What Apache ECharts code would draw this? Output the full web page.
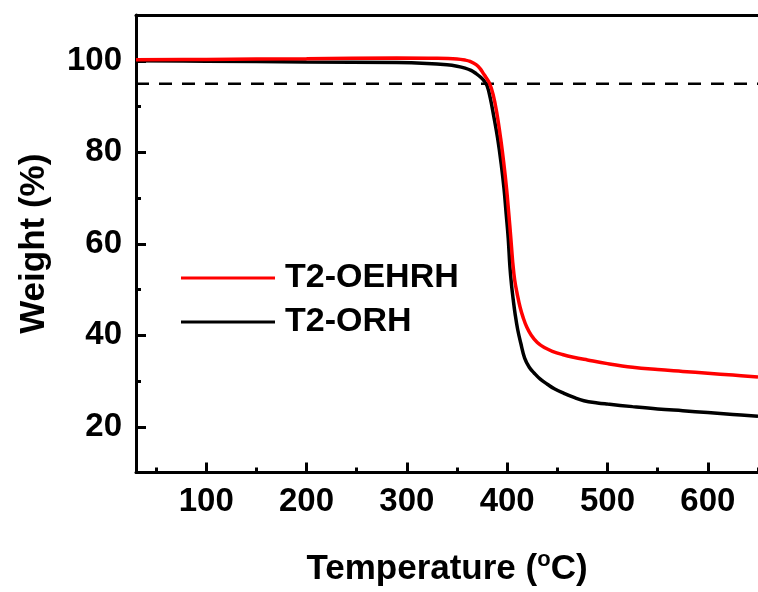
<!DOCTYPE html>
<html>
<head>
<meta charset="utf-8">
<script src="https://cdn.jsdelivr.net/npm/echarts@6/dist/echarts.min.js"></script>
<style>
  html, body { margin: 0; padding: 0; background: #fff; }
  #chart { width: 758px; height: 592px; }
</style>
</head>
<body>
<div id="chart"></div>
<script>
// TGA curves: temperature (°C) vs. remaining weight (%)
const tempOEHRH = [30, 100, 200, 290, 330, 350, 358, 363, 369, 373, 376, 379, 382.5, 386, 389.5, 393.5, 396.5, 399.4, 401.5, 403.6, 405.5, 407.5, 410, 413, 416, 419.5, 424, 430, 437, 445, 455, 466, 480, 500, 525, 550, 575, 600, 625, 650];
const weightOEHRH = [100.2, 100.3, 100.45, 100.6, 100.55, 100.4, 100.15, 99.85, 99.15, 98.3, 97.3, 96.3, 95.0, 92.6, 88.8, 83, 77.8, 72, 66.8, 61.3, 56, 52, 49, 46, 43.8, 41.8, 40, 38.4, 37.3, 36.5, 35.8, 35.2, 34.6, 33.8, 33.0, 32.5, 32.1, 31.7, 31.3, 30.9];

const tempORH = [30, 100, 200, 290, 320, 340, 350, 358, 364, 369, 373, 377, 380, 383, 386.5, 390.5, 394, 396.8, 399, 401, 402.7, 404.3, 406, 408, 410.5, 413.5, 417.4, 422, 427, 433, 440, 447, 456.7, 466.6, 476.4, 490, 500, 525, 550, 575, 600, 625, 650];
const weightORH = [100.0, 99.9, 99.75, 99.6, 99.4, 99.1, 98.8, 98.4, 97.9, 97.2, 96.5, 95.6, 94.5, 92, 88, 83, 77.5, 72.1, 66.5, 61.3, 55, 51, 47.8, 44.5, 41.2, 38.3, 35, 33, 31.7, 30.4, 29.3, 28.3, 27.3, 26.4, 25.7, 25.2, 24.95, 24.4, 23.9, 23.5, 23.1, 22.7, 22.3];

// 95 % weight reference level
const refTemp = [30, 650];
const refWeight = [95, 95];

// axis ticks
const xMajorTicks = [100, 200, 300, 400, 500, 600];
const xMinorTicks = [50, 150, 250, 350, 450, 550, 650];
const yMajorTicks = [20, 40, 60, 80, 100];
const yMinorTicks = [30, 50, 70, 90];

const seriesNames = ['T2-OEHRH', 'T2-ORH'];

const FONT = 'Arial, "Liberation Sans", sans-serif';
const zip = (xs, ys) => xs.map((x, i) => [x, ys[i]]);

const chart = echarts.init(document.getElementById('chart'), null, { renderer: 'canvas' });

const axisLine = { show: true, lineStyle: { color: '#000', width: 3 } };

chart.setOption({
  animation: false,
  backgroundColor: '#fff',
  grid: { left: 136, top: 15, width: 629, height: 461, containLabel: false },
  legend: {
    data: seriesNames,
    orient: 'vertical',
    left: 181,
    top: 261,
    padding: 0,
    itemWidth: 94,
    itemHeight: 14,
    itemGap: 10,
    icon: 'path://M0,5.5 L94,5.5 L94,8.5 L0,8.5 Z',
    textStyle: { fontFamily: FONT, fontWeight: 'bold', fontSize: 34, color: '#000', lineHeight: 34, padding: [0, 0, 0, 5] },
    selectedMode: false
  },
  xAxis: [
    {
      type: 'value', min: 30, max: 650, position: 'bottom',
      name: 'Temperature ({sup|o}C)',
      nameLocation: 'middle', nameGap: 76,
      nameTextStyle: {
        fontFamily: FONT, fontWeight: 'bold', fontSize: 35, color: '#000',
        rich: { sup: { fontFamily: FONT, fontWeight: 'bold', fontSize: 22, color: '#000', verticalAlign: 'top', padding: [0, 0, 20, 0] } }
      },
      axisLine,
      axisTick: { show: true, inside: true, length: 10, lineStyle: { color: '#000', width: 3 }, customValues: xMajorTicks },
      axisLabel: { show: true, margin: 13, fontFamily: FONT, fontWeight: 'bold', fontSize: 33, color: '#000', customValues: xMajorTicks },
      splitLine: { show: false }
    },
    {
      type: 'value', min: 30, max: 650, position: 'bottom',
      axisLine: { show: false },
      axisTick: { show: true, inside: true, length: 5, lineStyle: { color: '#000', width: 3 }, customValues: xMinorTicks },
      axisLabel: { show: false },
      splitLine: { show: false }
    },
    {
      type: 'value', min: 30, max: 650, position: 'top',
      axisLine,
      axisTick: { show: false },
      axisLabel: { show: false },
      splitLine: { show: false }
    }
  ],
  yAxis: [
    {
      type: 'value', min: 10, max: 110, position: 'left',
      name: 'Weight (%)',
      nameLocation: 'middle', nameGap: 84, nameRotate: 90,
      nameTextStyle: { fontFamily: FONT, fontWeight: 'bold', fontSize: 35, color: '#000' },
      axisLine,
      axisTick: { show: true, inside: true, length: 10, lineStyle: { color: '#000', width: 3 }, customValues: yMajorTicks },
      axisLabel: { show: true, margin: 14, fontFamily: FONT, fontWeight: 'bold', fontSize: 33, color: '#000', customValues: yMajorTicks },
      splitLine: { show: false }
    },
    {
      type: 'value', min: 10, max: 110, position: 'left',
      axisLine: { show: false },
      axisTick: { show: true, inside: true, length: 5, lineStyle: { color: '#000', width: 3 }, customValues: yMinorTicks },
      axisLabel: { show: false },
      splitLine: { show: false }
    }
  ],
  series: [
    {
      name: 'reference', type: 'line', data: zip(refTemp, refWeight),
      symbol: 'none', silent: true, z: 1,
      lineStyle: { color: '#000', width: 2.5, type: [13, 10] }
    },
    {
      name: seriesNames[1], type: 'line', data: zip(tempORH, weightORH),
      symbol: 'none', smooth: 0.4, z: 2,
      itemStyle: { color: '#000' },
      lineStyle: { color: '#000', width: 3.5 }
    },
    {
      name: seriesNames[0], type: 'line', data: zip(tempOEHRH, weightOEHRH),
      symbol: 'none', smooth: 0.4, z: 3,
      itemStyle: { color: '#ff0000' },
      lineStyle: { color: '#ff0000', width: 3.5 }
    }
  ]
});
</script>
</body>
</html>
